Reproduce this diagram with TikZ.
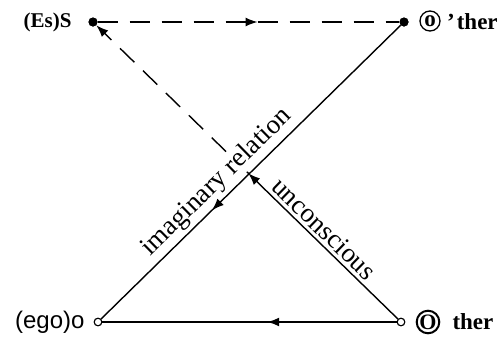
\documentclass[tikz,border=0pt]{standalone}
\usepackage{fontspec}
\setmainfont{Liberation Serif}
\newfontfamily\labsans{Liberation Sans}
\usetikzlibrary{decorations.markings,arrows.meta}
\begin{document}
\begin{tikzpicture}[x=1pt,y=-1pt,
  ln/.style={line width=1.4pt},
  dsh/.style={line width=1.4pt,dash pattern=on 20pt off 12pt},
  fdot/.style={circle,fill,inner sep=0pt,minimum size=9pt},
  odot/.style={circle,draw,line width=1pt,fill=white,inner sep=0pt,minimum size=7.5pt},
  lab/.style={font=\fontsize{23}{25}\selectfont\bfseries},
  diag/.style={font=\fontsize{27}{28}\selectfont, fill=white, inner sep=1pt},
  midarr/.style={decoration={markings,mark=at position #1 with {\arrow{Latex[length=12pt,width=9pt]}}},postaction={decorate}},
  tip/.style={-{Latex[length=12pt,width=9pt]}}
  ]
\useasboundingbox (0,0) rectangle (504,343);
\node[fdot] (S) at (93,22) {};
\node[fdot] (Ap) at (404,22) {};
\node[odot] (a) at (98,322) {};
\node[odot] (A) at (401,322) {};
\coordinate (X) at (intersection of Ap--a and A--S);

\draw[dsh, midarr=0.53] (S) -- (Ap);
\draw[dsh, tip] (X) -- (S);

\path (a) -- (Ap) node[pos=0.425, sloped, above=3pt, diag] (imag) {imaginary relation};
\path (S) -- (A) node[pos=0.725, sloped, above=3pt, diag] (unc) {unconscious};

\draw[line width=2pt, midarr=0.44] (A) -- (a);
\draw[ln, midarr=0.63] (Ap) -- (a);
\draw[ln, tip, shorten >=-1pt] (A) -- (X);
\node[fdot] at (S) {};
\node[fdot] at (Ap) {};
\node[odot] at (a) {};
\node[odot] at (A) {};

\node[font=\fontsize{21}{23}\selectfont\bfseries, anchor=east] (Slab) at (75,22) {(Es)S};
\node[font=\fontsize{24}{26}\selectfont\labsans, anchor=east] (alab) at (88,322) {(ego)o};
\node[circle, draw, line width=1.3pt, minimum size=20pt, inner sep=0pt, lab] (co) at (430,21) {o};
\node[lab, anchor=base west, inner sep=0pt] (ther1) at (447,29) {'\kern2pt ther};
\node[circle, draw, line width=2pt, minimum size=21pt, inner sep=0pt, font=\fontsize{22}{24}\selectfont\bfseries] (cO) at (428,322) {O};
\node[lab, anchor=west] (ther2) at (449,322) {ther};
\end{tikzpicture}
\end{document}
